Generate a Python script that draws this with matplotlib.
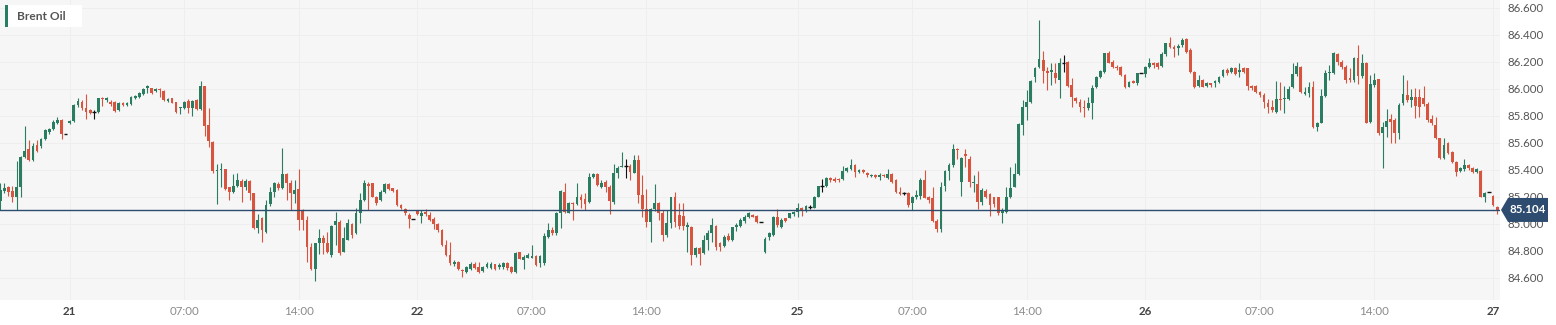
import matplotlib
matplotlib.use("Agg")
import matplotlib.pyplot as plt
from matplotlib.patches import Polygon, Rectangle
import numpy as np

plt.rcParams['font.family'] = ['Lato', 'DejaVu Sans']

instrument = 'Brent Oil'

# 15-minute candles, oldest first
opens = [
    85.170, 85.245, 85.277, 85.245, 85.198, 85.277, 85.494, 85.553, 85.474, 85.585,
    85.578, 85.627, 85.680, 85.700, 85.746, 85.770, 85.667, 85.746, 85.763, 85.880,
    85.906, 85.857, 85.845, 85.827, 85.833, 85.936, 85.920, 85.906, 85.906, 85.845,
    85.899, 85.880, 85.889, 85.931, 85.940, 85.961, 86.005, 86.005, 85.985, 85.998,
    85.988, 85.910, 85.931, 85.901, 85.860, 85.857, 85.914, 85.857, 85.920, 85.854,
    86.022, 85.734, 85.610, 85.395, 85.400, 85.405, 85.272, 85.235, 85.282, 85.321,
    85.272, 85.321, 85.227, 84.967, 85.042, 84.943, 85.150, 85.240, 85.296, 85.264,
    85.368, 85.301, 85.220, 85.260, 85.100, 85.030, 84.832, 84.664, 84.862, 84.894,
    84.857, 84.770, 84.990, 85.017, 84.795, 84.885, 85.000, 84.930, 85.080, 85.178,
    85.296, 85.300, 85.200, 85.178, 85.237, 85.294, 85.265, 85.252, 85.141, 85.110,
    85.070, 85.035, 85.096, 85.060, 85.090, 85.067, 85.035, 85.000, 84.956, 84.844,
    84.770, 84.700, 84.720, 84.660, 84.647, 84.664, 84.700, 84.684, 84.652, 84.684,
    84.672, 84.700, 84.684, 84.684, 84.710, 84.684, 84.647, 84.790, 84.733, 84.750,
    84.750, 84.763, 84.709, 84.709, 84.906, 84.956, 84.931, 85.079, 85.240, 85.084,
    85.158, 85.148, 85.198, 85.183, 85.165, 85.346, 85.370, 85.277, 85.314, 85.272,
    85.165, 85.375, 85.425, 85.432, 85.430, 85.380, 85.474, 85.215, 85.109, 85.017,
    85.109, 85.158, 85.084, 84.919, 85.010, 85.202, 85.067, 85.059, 84.975, 84.980,
    84.770, 84.820, 84.783, 84.881, 84.931, 84.985, 84.862, 84.837, 84.911, 84.881,
    84.975, 84.985, 85.022, 85.054, 85.067, 85.062, 85.012, 84.790, 84.901, 84.919,
    85.049, 84.980, 85.042, 85.047, 85.074, 85.091, 85.116, 85.096, 85.126, 85.121,
    85.202, 85.284, 85.279, 85.341, 85.336, 85.336, 85.331, 85.395, 85.405, 85.437,
    85.383, 85.400, 85.378, 85.356, 85.361, 85.351, 85.365, 85.338, 85.370, 85.326,
    85.240, 85.227, 85.227, 85.153, 85.202, 85.210, 85.326, 85.200, 85.190, 85.025,
    84.963, 85.281, 85.390, 85.437, 85.553, 85.314, 85.520, 85.479, 85.306, 85.294,
    85.165, 85.247, 85.222, 85.198, 85.198, 85.079, 85.091, 85.202, 85.277, 85.370,
    85.733, 85.864, 85.906, 86.086, 86.165, 86.215, 86.133, 86.128, 86.116, 86.067,
    86.195, 86.202, 86.030, 85.931, 85.906, 85.869, 85.857, 85.894, 86.012, 86.091,
    86.128, 86.264, 86.202, 86.165, 86.165, 86.104, 86.017, 86.059, 86.042, 86.119,
    86.111, 86.160, 86.190, 86.190, 86.170, 86.259, 86.343, 86.309, 86.301, 86.326,
    86.368, 86.289, 86.128, 86.022, 86.067, 86.022, 86.042, 86.042, 86.054, 86.096,
    86.141, 86.128, 86.153, 86.128, 86.153, 86.153, 86.022, 86.022, 85.980, 85.956,
    85.894, 85.869, 85.832, 85.926, 85.923, 85.928, 86.012, 86.111, 86.165, 85.963,
    85.968, 86.012, 85.721, 85.751, 85.948, 86.116, 86.121, 86.259, 86.202, 86.165,
    86.079, 86.067, 86.227, 86.096, 86.195, 85.758, 86.030, 86.072, 85.677, 85.716,
    85.775, 85.770, 85.672, 85.894, 85.956, 85.919, 85.938, 85.938, 85.931, 85.889,
    85.775, 85.733, 85.635, 85.486, 85.602, 85.536, 85.462, 85.395, 85.405, 85.437,
    85.412, 85.388, 85.395, 85.202, 85.235, 85.210, 85.128,
]

highs = [
    85.300, 85.306, 85.280, 85.280, 85.467, 85.500, 85.726, 85.620, 85.600, 85.620,
    85.635, 85.700, 85.710, 85.770, 85.790, 85.780, 85.667, 85.770, 85.890, 85.930,
    85.920, 85.963, 85.850, 85.845, 85.936, 85.940, 85.940, 85.915, 85.914, 85.900,
    85.905, 85.905, 85.945, 85.955, 85.975, 86.005, 86.030, 86.010, 86.005, 86.010,
    85.995, 85.930, 85.935, 85.905, 85.869, 85.910, 85.925, 85.920, 85.925, 86.059,
    86.025, 85.857, 85.615, 85.442, 85.455, 85.410, 85.275, 85.370, 85.380, 85.330,
    85.330, 85.325, 85.230, 85.072, 85.050, 85.178, 85.277, 85.313, 85.310, 85.560,
    85.375, 85.326, 85.326, 85.410, 85.110, 85.060, 84.856, 84.862, 84.960, 84.918,
    84.943, 84.993, 85.090, 85.030, 84.980, 85.036, 85.010, 85.116, 85.232, 85.326,
    85.313, 85.305, 85.207, 85.250, 85.306, 85.306, 85.270, 85.257, 85.148, 85.116,
    85.080, 85.035, 85.100, 85.100, 85.110, 85.090, 85.055, 85.010, 84.960, 84.880,
    84.869, 84.730, 84.726, 84.665, 84.690, 84.720, 84.720, 84.720, 84.690, 84.720,
    84.720, 84.705, 84.710, 84.720, 84.715, 84.690, 84.795, 84.795, 84.770, 84.783,
    84.844, 84.770, 84.770, 84.931, 85.010, 84.980, 85.091, 85.252, 85.301, 85.165,
    85.165, 85.306, 85.222, 85.227, 85.375, 85.380, 85.380, 85.326, 85.326, 85.289,
    85.444, 85.430, 85.536, 85.479, 85.444, 85.511, 85.511, 85.363, 85.257, 85.116,
    85.296, 85.165, 85.104, 85.104, 85.202, 85.240, 85.158, 85.158, 85.012, 84.985,
    84.832, 84.827, 84.919, 84.956, 85.042, 84.993, 84.869, 84.919, 84.931, 84.980,
    85.010, 85.042, 85.067, 85.089, 85.074, 85.067, 85.012, 84.906, 84.943, 85.059,
    85.109, 85.042, 85.047, 85.084, 85.099, 85.158, 85.126, 85.141, 85.143, 85.210,
    85.284, 85.333, 85.348, 85.348, 85.348, 85.343, 85.430, 85.420, 85.479, 85.444,
    85.405, 85.405, 85.385, 85.370, 85.370, 85.375, 85.370, 85.405, 85.380, 85.331,
    85.277, 85.235, 85.235, 85.207, 85.252, 85.341, 85.400, 85.210, 85.271, 85.035,
    85.311, 85.398, 85.449, 85.590, 85.560, 85.499, 85.553, 85.504, 85.363, 85.395,
    85.264, 85.257, 85.232, 85.202, 85.202, 85.116, 85.272, 85.425, 85.449, 85.746,
    85.919, 85.993, 86.067, 86.165, 86.511, 86.284, 86.165, 86.190, 86.190, 86.227,
    86.252, 86.210, 86.079, 85.943, 85.923, 85.919, 85.943, 86.030, 86.096, 86.141,
    86.269, 86.284, 86.215, 86.175, 86.170, 86.111, 86.062, 86.067, 86.121, 86.119,
    86.170, 86.227, 86.202, 86.202, 86.277, 86.343, 86.383, 86.326, 86.333, 86.375,
    86.375, 86.301, 86.136, 86.104, 86.072, 86.054, 86.047, 86.067, 86.096, 86.146,
    86.153, 86.165, 86.165, 86.195, 86.165, 86.158, 86.030, 86.030, 85.988, 85.973,
    85.923, 85.919, 86.059, 86.054, 86.022, 86.022, 86.195, 86.200, 86.170, 86.012,
    86.054, 86.062, 85.758, 85.998, 86.141, 86.178, 86.277, 86.269, 86.215, 86.178,
    86.153, 86.235, 86.326, 86.259, 86.202, 86.104, 86.116, 86.077, 85.758, 85.849,
    85.812, 85.783, 85.894, 86.104, 86.067, 85.998, 86.005, 85.998, 86.022, 85.906,
    85.807, 85.795, 85.640, 85.635, 85.610, 85.541, 85.469, 85.425, 85.479, 85.444,
    85.420, 85.412, 85.400, 85.240, 85.235, 85.215, 85.133,
]

lows = [
    85.100, 85.230, 85.210, 85.165, 85.104, 85.200, 85.490, 85.470, 85.470, 85.535,
    85.560, 85.620, 85.670, 85.695, 85.740, 85.632, 85.667, 85.740, 85.758, 85.870,
    85.845, 85.775, 85.815, 85.775, 85.825, 85.874, 85.900, 85.875, 85.827, 85.837,
    85.875, 85.875, 85.880, 85.925, 85.935, 85.955, 85.973, 85.960, 85.980, 85.938,
    85.910, 85.905, 85.895, 85.825, 85.812, 85.850, 85.820, 85.800, 85.845, 85.845,
    85.652, 85.568, 85.375, 85.148, 85.277, 85.250, 85.178, 85.230, 85.275, 85.166,
    85.252, 85.178, 84.960, 84.936, 84.869, 84.930, 85.130, 85.200, 85.250, 85.260,
    85.178, 85.104, 85.153, 84.956, 84.956, 84.720, 84.660, 84.580, 84.780, 84.780,
    84.783, 84.753, 84.844, 84.770, 84.795, 84.880, 84.894, 84.926, 85.005, 85.173,
    85.100, 85.197, 85.140, 85.173, 85.232, 85.250, 85.240, 85.136, 85.110, 85.067,
    84.973, 85.035, 85.067, 85.005, 85.060, 85.020, 84.960, 84.943, 84.837, 84.763,
    84.696, 84.690, 84.660, 84.610, 84.640, 84.660, 84.664, 84.640, 84.647, 84.675,
    84.664, 84.660, 84.664, 84.664, 84.660, 84.640, 84.640, 84.740, 84.664, 84.746,
    84.746, 84.689, 84.684, 84.696, 84.894, 84.919, 84.919, 84.968, 85.079, 85.079,
    85.030, 85.141, 85.116, 85.104, 85.153, 85.338, 85.281, 85.264, 85.240, 85.074,
    85.148, 85.338, 85.420, 85.338, 85.326, 85.375, 85.153, 85.054, 84.980, 84.869,
    85.099, 85.030, 84.877, 84.901, 84.968, 84.980, 84.960, 84.956, 84.795, 84.696,
    84.758, 84.696, 84.778, 84.807, 84.869, 84.807, 84.802, 84.827, 84.877, 84.877,
    84.951, 84.980, 85.010, 85.042, 85.049, 85.005, 85.012, 84.783, 84.881, 84.911,
    84.980, 84.968, 85.017, 85.042, 85.062, 85.054, 85.062, 85.091, 85.109, 85.116,
    85.197, 85.240, 85.274, 85.314, 85.314, 85.314, 85.326, 85.388, 85.400, 85.351,
    85.375, 85.375, 85.351, 85.351, 85.341, 85.326, 85.350, 85.331, 85.306, 85.232,
    85.215, 85.218, 85.124, 85.104, 85.183, 85.183, 85.190, 85.158, 85.012, 84.943,
    84.943, 85.242, 85.326, 85.425, 85.480, 85.207, 85.425, 85.277, 85.240, 85.109,
    85.141, 85.190, 85.059, 85.128, 85.067, 85.005, 85.079, 85.190, 85.272, 85.363,
    85.659, 85.770, 85.894, 86.054, 86.153, 86.042, 85.993, 86.030, 86.042, 85.931,
    86.128, 86.017, 85.864, 85.894, 85.832, 85.795, 85.844, 85.775, 86.005, 86.079,
    86.121, 86.190, 86.158, 86.141, 86.096, 86.005, 86.012, 86.042, 86.030, 86.119,
    86.086, 86.153, 86.153, 86.146, 86.165, 86.244, 86.301, 86.240, 86.252, 86.314,
    86.269, 86.121, 86.005, 86.012, 86.012, 86.012, 86.012, 86.017, 86.042, 86.086,
    86.104, 86.116, 86.104, 86.091, 86.116, 85.993, 85.993, 85.968, 85.943, 85.857,
    85.820, 85.832, 85.820, 85.844, 85.825, 85.919, 86.005, 86.096, 85.968, 85.956,
    85.943, 85.709, 85.691, 85.746, 85.938, 86.067, 86.111, 86.178, 86.146, 86.047,
    86.054, 86.054, 86.037, 86.084, 85.746, 85.751, 86.017, 85.659, 85.412, 85.647,
    85.598, 85.598, 85.627, 85.881, 85.906, 85.869, 85.783, 85.795, 85.874, 85.758,
    85.733, 85.627, 85.479, 85.479, 85.519, 85.454, 85.356, 85.388, 85.395, 85.400,
    85.380, 85.375, 85.198, 85.165, 85.235, 85.133, 85.074,
]

closes = [
    85.250, 85.265, 85.240, 85.198, 85.277, 85.494, 85.541, 85.474, 85.578, 85.540,
    85.627, 85.696, 85.700, 85.758, 85.770, 85.667, 85.667, 85.763, 85.880, 85.910,
    85.857, 85.833, 85.820, 85.827, 85.930, 85.924, 85.930, 85.887, 85.837, 85.894,
    85.880, 85.898, 85.938, 85.948, 85.968, 85.998, 86.022, 85.968, 86.000, 85.990,
    85.919, 85.926, 85.899, 85.830, 85.869, 85.901, 85.857, 85.914, 85.850, 86.022,
    85.726, 85.615, 85.393, 85.400, 85.410, 85.257, 85.240, 85.282, 85.326, 85.277,
    85.321, 85.232, 84.968, 85.030, 84.956, 85.141, 85.240, 85.300, 85.264, 85.368,
    85.301, 85.227, 85.252, 85.030, 85.030, 84.832, 84.664, 84.862, 84.894, 84.857,
    84.790, 84.985, 85.025, 84.783, 84.894, 85.005, 84.918, 85.080, 85.178, 85.300,
    85.284, 85.200, 85.158, 85.240, 85.296, 85.260, 85.248, 85.141, 85.116, 85.080,
    85.035, 85.035, 85.074, 85.084, 85.074, 85.030, 85.000, 84.956, 84.844, 84.770,
    84.708, 84.720, 84.664, 84.655, 84.684, 84.700, 84.672, 84.647, 84.684, 84.700,
    84.700, 84.664, 84.696, 84.713, 84.676, 84.647, 84.788, 84.743, 84.758, 84.770,
    84.760, 84.696, 84.763, 84.911, 84.956, 84.931, 85.079, 85.247, 85.091, 85.158,
    85.148, 85.198, 85.178, 85.148, 85.351, 85.370, 85.289, 85.306, 85.277, 85.173,
    85.375, 85.412, 85.432, 85.432, 85.383, 85.474, 85.215, 85.109, 85.017, 85.109,
    85.158, 85.084, 84.919, 85.010, 85.198, 85.017, 84.985, 84.985, 84.993, 84.770,
    84.820, 84.778, 84.881, 84.931, 84.990, 84.832, 84.832, 84.906, 84.881, 84.975,
    84.990, 85.030, 85.054, 85.079, 85.054, 85.012, 85.012, 84.886, 84.931, 85.049,
    84.993, 85.030, 85.025, 85.079, 85.091, 85.116, 85.096, 85.133, 85.126, 85.202,
    85.279, 85.284, 85.343, 85.324, 85.319, 85.324, 85.395, 85.412, 85.437, 85.388,
    85.400, 85.383, 85.363, 85.363, 85.346, 85.363, 85.355, 85.370, 85.314, 85.240,
    85.222, 85.227, 85.141, 85.202, 85.212, 85.326, 85.195, 85.175, 85.025, 84.963,
    85.271, 85.390, 85.437, 85.556, 85.545, 85.486, 85.505, 85.314, 85.314, 85.165,
    85.252, 85.202, 85.141, 85.148, 85.084, 85.104, 85.198, 85.264, 85.370, 85.741,
    85.869, 85.906, 86.062, 86.153, 86.220, 86.136, 86.121, 86.141, 86.079, 86.190,
    86.195, 86.022, 85.938, 85.914, 85.864, 85.857, 85.894, 86.005, 86.086, 86.133,
    86.264, 86.195, 86.165, 86.153, 86.104, 86.012, 86.054, 86.047, 86.116, 86.119,
    86.160, 86.190, 86.178, 86.165, 86.259, 86.338, 86.309, 86.294, 86.319, 86.363,
    86.277, 86.128, 86.012, 86.067, 86.017, 86.042, 86.030, 86.059, 86.091, 86.141,
    86.116, 86.153, 86.111, 86.141, 86.128, 86.022, 86.005, 85.980, 85.956, 85.906,
    85.864, 85.844, 85.923, 85.919, 85.935, 85.998, 86.111, 86.170, 85.980, 85.980,
    86.012, 85.721, 85.746, 85.948, 86.121, 86.128, 86.264, 86.202, 86.165, 86.067,
    86.067, 86.227, 86.096, 86.195, 85.751, 86.037, 86.067, 85.672, 85.721, 85.765,
    85.758, 85.672, 85.881, 85.963, 85.919, 85.943, 85.874, 85.864, 85.889, 85.770,
    85.746, 85.635, 85.486, 85.585, 85.528, 85.462, 85.388, 85.412, 85.437, 85.412,
    85.388, 85.405, 85.202, 85.232, 85.235, 85.141, 85.104,
]

# time-axis labels, placed at the candle they fall on
tick_positions = [17, 45, 73, 102, 130, 158, 195, 223, 251, 280, 308, 336, 365]
tick_labels = ['21', '07:00', '14:00', '22', '07:00', '14:00', '25',
               '07:00', '14:00', '26', '07:00', '14:00', '27']
price_ticks = [84.6, 84.8, 85.0, 85.2, 85.4, 85.6, 85.8, 86.0, 86.2, 86.4, 86.6]

GREEN = '#2b7d61'
RED = '#d7543f'
FLAT = '#111111'
NAVY = '#2e4c6f'

W, H = 1556, 325
fig = plt.figure(figsize=(W / 100, H / 100), dpi=100)
fig.patch.set_facecolor('white')
ax = fig.add_axes([0, 25 / H, 1500 / W, 300 / H])
ax.set_facecolor('#f6f6f6')

o = np.array(opens)
hi = np.array(highs)
lo = np.array(lows)
c = np.array(closes)
idx = np.arange(len(c))

up = c > o
down = c < o
flat = c == o
colors = np.where(up, GREEN, np.where(down, RED, FLAT))

# wicks
ax.vlines(idx, lo, hi, colors=colors, linewidth=0.8, zorder=2)

# bodies (thin bodies get a minimum visible height)
body_lo = np.minimum(o, c)
body_h = np.abs(c - o)
draw_h = np.maximum(body_h, 0.006)
m = ~flat
ax.bar(idx[m], draw_h[m], bottom=body_lo[m] - (draw_h[m] - body_h[m]) / 2,
       width=0.68, color=colors[m], linewidth=0, zorder=3)
# unchanged candles
ax.hlines(c[flat], idx[flat] - 0.45, idx[flat] + 0.45, colors=FLAT,
          linewidth=1.0, zorder=3)

ax.set_xlim(-0.05, 366.7)
ax.set_ylim(84.437, 86.659)

ax.set_xticks(tick_positions)
ax.set_xticklabels(tick_labels)
ax.set_yticks(price_ticks)
ax.set_yticklabels([f'{p:.3f}' for p in price_ticks])
ax.yaxis.tick_right()
ax.grid(True, color='#eeeeee', linewidth=0.7, zorder=0)
ax.set_axisbelow(True)
for s in ax.spines.values():
    s.set_visible(False)
ax.tick_params(axis='y', length=0, pad=5.4, labelsize=8.3, labelcolor='#555555')
ax.tick_params(axis='x', length=0, pad=4.5, labelsize=8.3)
for lbl in ax.get_xticklabels():
    if ':' in lbl.get_text():
        lbl.set_color('#8a8a8a')
    else:
        lbl.set_color('#444444')
        lbl.set_fontweight('bold')

# last price line
last = c[-1]
ax.axhline(last, color=NAVY, linewidth=1.0, zorder=4)

# overlay in pixel units for the price tag and instrument label
ov = fig.add_axes([0, 0, 1, 1])
ov.set_xlim(0, W)
ov.set_ylim(H, 0)
ov.axis('off')
ov.patch.set_alpha(0)

y_last = H - ax.transData.transform((0, last))[1]
tag = Polygon([(1501, y_last), (1508, y_last - 12), (1548, y_last - 12),
               (1548, y_last + 12), (1508, y_last + 12)],
              closed=True, facecolor=NAVY, edgecolor='none', zorder=5)
ov.add_patch(tag)
ov.text(1528, y_last, f'{last:.3f}', color='white', fontsize=8.3,
        fontweight='bold', ha='center', va='center', zorder=6)

ov.add_patch(Rectangle((8, 5), 74, 22, facecolor='white', edgecolor='none', zorder=5))
ov.add_patch(Rectangle((5, 5), 3, 22, facecolor=GREEN, edgecolor='none', zorder=5))
ov.text(17, 16.5, instrument, color='#555555', fontsize=8.6, fontweight='bold',
        ha='left', va='center', zorder=6)

fig.savefig('out.png', dpi=100)
